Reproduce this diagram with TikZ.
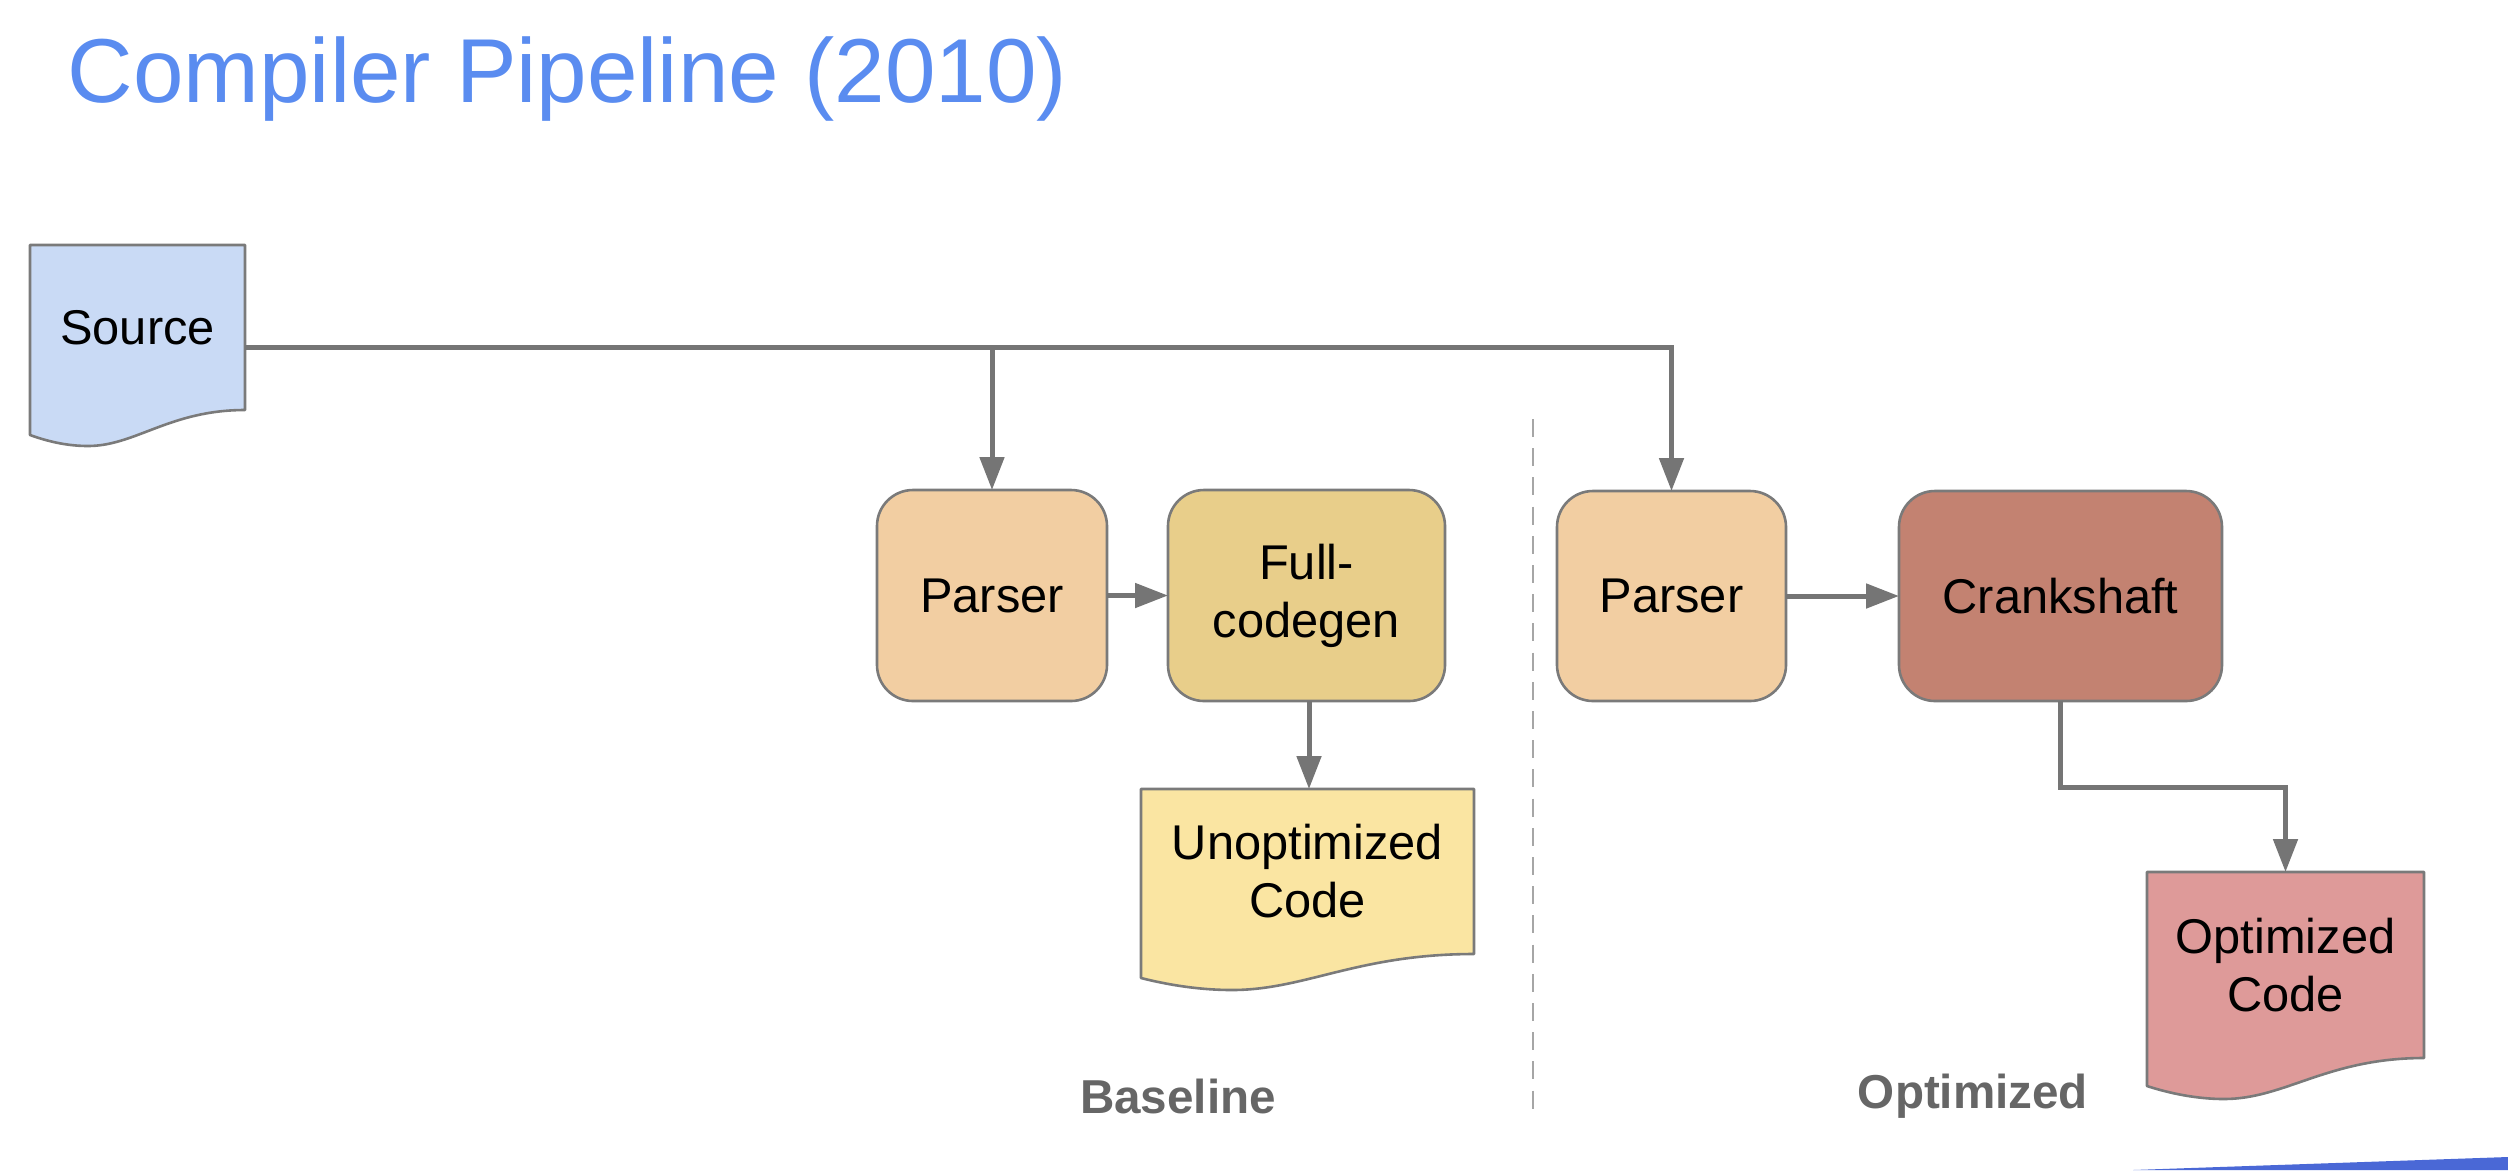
\documentclass[tikz,border=0pt]{standalone}
\usepackage{fontspec}
\setmainfont{Liberation Sans}
\usetikzlibrary{arrows.meta,calc,backgrounds}
\definecolor{titleblue}{HTML}{5A8CF0}
\definecolor{srcfill}{HTML}{C9DAF5}
\definecolor{parserfill}{HTML}{F2CEA2}
\definecolor{fcfill}{HTML}{E8CE8A}
\definecolor{unoptfill}{HTML}{FAE5A2}
\definecolor{crankfill}{HTML}{C38271}
\definecolor{optfill}{HTML}{DE9A99}
\definecolor{strokegray}{HTML}{7A7A7A}
\definecolor{conngray}{HTML}{757575}
\definecolor{labelgray}{HTML}{666666}
\definecolor{divgray}{HTML}{A6A6A6}
\definecolor{barblue}{HTML}{4A68D6}
\newcommand{\pxu}[1]{#1*0.25pt}
% doc shape: #1 node name, #2 fill, #3 width, #4 left-bottom drop, #5 trough drop, #6 trough x offset
\newcommand{\docshape}[6]{%
  \path[docline, fill=#2] (#1.north west) -- (#1.north east) -- (#1.south east)
    .. controls ($(#1.south east)+(-0.35*#3,0)$) and ($(#1.south west)+(#6+0.22*#3,#5)$) ..
    ($(#1.south west)+(#6,#5)$)
    .. controls ($(#1.south west)+(#6-0.12*#3,#5)$) and ($(#1.south west)+(0.05*#3,#4+0.35*#5-0.35*#4)$) ..
    ($(#1.south west)+(0,#4)$) -- cycle;}
\begin{document}
\begin{tikzpicture}[x=0.25pt,y=-0.25pt,
  boxtext/.style={font=\fontsize{12.2}{14.5}\selectfont, align=center, text=black},
  rbox/.style={boxtext, draw=strokegray, line width=0.65pt, rounded corners=9pt, inner sep=0pt, outer sep=0pt},
  docnode/.style={boxtext, inner sep=0pt, outer sep=0pt},
  docline/.style={draw=strokegray, line width=0.65pt, line join=round},
  conn/.style={draw=conngray, line width=1.25pt, line join=miter, -{Triangle[length=8.25pt,width=6pt]}},
  phase/.style={font=\fontsize{11.9}{14}\selectfont\bfseries, text=labelgray},
  divider/.style={draw=divgray, line width=0.7pt, dash pattern=on 4.5pt off 2.8pt}]
\useasboundingbox (0,0) rectangle (2508,1170);

% title
\node[anchor=base west, inner sep=0pt, text=titleblue, font=\fontsize{22.7}{27}\selectfont] (title) at (67,102) {Compiler Pipeline (2010)};

% document nodes (text + anchor frame)
\node[docnode, minimum width=\pxu{215}, minimum height=\pxu{165}] (src) at (137.5,327.5) {Source};
\node[docnode, minimum width=\pxu{333}, minimum height=\pxu{165}] (unopt) at (1307.5,871.5) {Unoptimized\\Code};
\node[docnode, minimum width=\pxu{277}, minimum height=\pxu{186}] (opt) at (2285.5,965) {Optimized\\Code};

\begin{scope}[on background layer]
  \docshape{src}{srcfill}{215}{25}{36}{58}
  \docshape{unopt}{unoptfill}{333}{24}{36}{91}
  \docshape{opt}{optfill}{277}{28}{41}{77}
\end{scope}

% process boxes
\node[rbox, fill=parserfill, minimum width=\pxu{230}, minimum height=\pxu{211}] (p1) at (992,595.5) {Parser};
\node[rbox, fill=fcfill, minimum width=\pxu{277}, minimum height=\pxu{211}] (fc) at (1306.5,595.5) {Full-\\codegen};
\node[rbox, fill=parserfill, minimum width=\pxu{229}, minimum height=\pxu{210}] (p2) at (1671.5,596) {Parser};
\node[rbox, fill=crankfill, minimum width=\pxu{323}, minimum height=\pxu{210}] (crank) at (2060.5,596) {Crankshaft};

% connectors
\coordinate (srcout) at ($(src.north east)+(0,102)$);
\draw[conn] (srcout) -| (p2.north);
\draw[conn] (srcout -| p1.north) -- (p1.north);
\draw[conn] (p1.east) -- (fc.west);
\draw[conn] (p2.east) -- (crank.west);
\draw[conn] ($(fc.south)+(2.5,0)$) -- ($(fc.south |- unopt.north)+(2.5,0)$);
\coordinate (optbend) at ($(opt.north)+(0,-85)$);
\draw[conn] (crank.south) |- (optbend) -- (opt.north);

% divider
\coordinate (divtop) at (1533,419);
\coordinate (divbot) at (1533,1115);
\draw[divider] (divtop) -- (divbot);

% phase labels
\node[phase] (lbase) at (1178,1096) {Baseline};
\node[phase] (lopt) at (1973,1096) {Optimized};

% decorative bar
\fill[barblue] (2133,1170) -- (2508,1157) -- (2508,1170) -- cycle;
\end{tikzpicture}
\end{document}
